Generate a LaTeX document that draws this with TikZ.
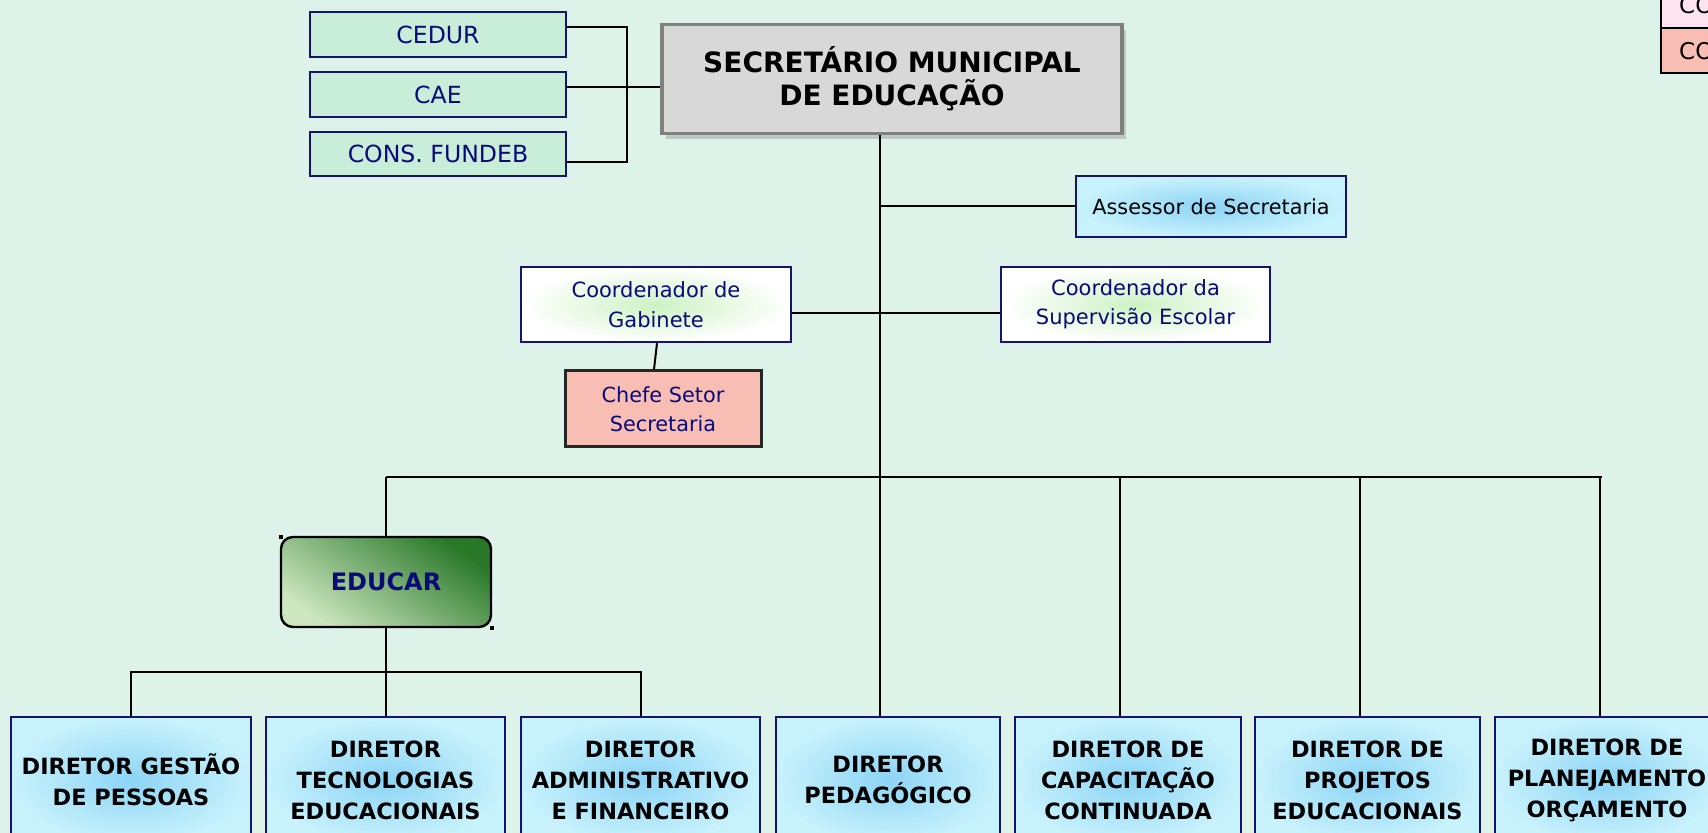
\documentclass[tikz,border=0pt]{standalone}
\usepackage{fontspec}
\setmainfont{DejaVu Sans}
\usetikzlibrary{shadows,calc}
\definecolor{bgc}{RGB}{221,242,232}
\definecolor{navyb}{RGB}{20,20,110}
\definecolor{navyt}{RGB}{10,10,120}
\definecolor{mintbox}{RGB}{200,238,218}
\definecolor{greyfill}{RGB}{216,216,216}
\definecolor{greyline}{RGB}{128,128,128}
\definecolor{blin}{RGB}{140,212,245}
\definecolor{blout}{RGB}{200,242,252}
\definecolor{grin}{RGB}{205,242,195}
\definecolor{salmon}{RGB}{248,190,180}
\definecolor{pinkl}{RGB}{253,228,240}
\definecolor{gdark}{RGB}{40,120,40}
\definecolor{glight}{RGB}{205,230,192}
\begin{document}
\begin{tikzpicture}[x=0.5pt,y=-0.5pt,
  sz/.style 2 args={minimum width=#1*0.5pt, minimum height=#2*0.5pt, inner sep=0pt, align=center},
  conn/.style={draw=black, line width=1pt},
  topbox/.style={draw=navyb, fill=mintbox, line width=1.2pt, text=navyt, font=\fontsize{11.8}{14}\selectfont},
  secbox/.style={draw=greyline, fill=greyfill, line width=1.8pt, font=\bfseries\fontsize{14}{16.5}\selectfont, drop shadow={opacity=0.35, shadow xshift=2pt, shadow yshift=-3pt}},
  bluebox/.style={draw=navyb, line width=1.2pt, inner color=blin, outer color=blout},
  coordbox/.style={draw=navyb, line width=1.2pt, inner color=grin, outer color=white, text=navyt, font=\fontsize{10.5}{14.7}\selectfont},
  chefebox/.style={draw=black!85, fill=salmon, line width=1.5pt, text=navyt, font=\fontsize{10.4}{14.7}\selectfont},
  educarbox/.style={draw=black, line width=1.2pt, rounded corners=6pt, top color=gdark, bottom color=glight, shading angle=-35, text=navyt, font=\bfseries\fontsize{12}{14}\selectfont},
  dirbox/.style={bluebox, font=\bfseries\fontsize{11.2}{15.5}\selectfont},
  legbox/.style={draw=black, line width=1.2pt, text=black, anchor=north west, inner xsep=2pt, inner ysep=0pt, text width=56pt, align=left, font=\fontsize{11.5}{12}\selectfont}
]
\useasboundingbox (0,0) rectangle (1708,833);
\fill[bgc] (0,0) rectangle (1708,833);

% legend (cut by page edge, as in the source)
\node[legbox, fill=pinkl, minimum height=23.5pt] (legA) at (1660,-20) {\hspace{7pt}CO};
\node[legbox, fill=salmon, minimum height=22.5pt] (legB) at (1660,27) {\hspace{7pt}CO};

% top-left councils
\node[topbox, sz={256}{45}] (cedur) at (438,34.5) {CEDUR};
\node[topbox, sz={256}{45}] (cae) at (438,94.5) {CAE};
\node[topbox, sz={256}{44}] (fundeb) at (438,154) {CONS. FUNDEB};

% secretary
\node[secbox, sz={460}{109}] (sec) at (892,79) {SECRETÁRIO MUNICIPAL\\DE EDUCAÇÃO};

% staff
\node[bluebox, sz={270}{61}, font=\fontsize{10.4}{14}\selectfont] (assessor) at (1211,206.5) {Assessor de Secretaria};
\node[coordbox, sz={270}{75}] (coordgab) at (656,304.5) {Coordenador de\\Gabinete};
\node[coordbox, sz={269}{75}] (coordsup) at (1135.5,304.5) {Coordenador da\\Supervisão Escolar};
\node[chefebox, sz={196}{76}] (chefe) at (663,409) {Chefe Setor\\Secretaria};

% EDUCAR
\node[educarbox, sz={210}{90}] (educar) at (386,582) {EDUCAR};
\fill[black] (279,535) rectangle (283,539);
\fill[black] (490,626) rectangle (494,630);

% directors
\node[dirbox, sz={240}{126}] (b1) at (131,780) {DIRETOR GESTÃO\\DE PESSOAS};
\node[dirbox, sz={239}{126}] (b2) at (385.5,780) {DIRETOR\\TECNOLOGIAS\\EDUCACIONAIS};
\node[dirbox, sz={239}{126}] (b3) at (640.5,780) {DIRETOR\\ADMINISTRATIVO\\E FINANCEIRO};
\node[dirbox, sz={224}{126}] (b4) at (888,780) {DIRETOR\\PEDAGÓGICO};
\node[dirbox, sz={226}{126}] (b5) at (1128,780) {DIRETOR DE\\CAPACITAÇÃO\\CONTINUADA};
\node[dirbox, sz={225}{126}] (b6) at (1367.5,780) {DIRETOR DE\\PROJETOS\\EDUCACIONAIS};
\node[dirbox, sz={224}{126}] (b7) at (1607,780) {DIRETOR DE\\PLANEJAMENTO\\ORÇAMENTO};

% helper coordinates
\coordinate (bk1) at (627,27);
\coordinate (bk2) at (627,87);
\coordinate (bk3) at (627,162);
\coordinate (spine) at (880,477);
\coordinate (hc) at (880,313);
\coordinate (busL) at (386,477);
\coordinate (busR) at (1602,477);
\coordinate (d5) at (1120,477);
\coordinate (d6) at (1360,477);
\coordinate (d7) at (1600,477);
\coordinate (sub) at (386,672);

% connectors
\draw[conn] (cedur.east |- bk1) -- (bk1) -- (bk3) -- (fundeb.east |- bk3);
\draw[conn] (cae.east |- bk2) -- (sec.west |- bk2);
\draw[conn] (sec.south -| spine) -- (b4.north -| spine);
\draw[conn] (spine |- assessor.west) -- (assessor.west);
\draw[conn] (coordgab.east |- hc) -- (coordsup.west |- hc);
\draw[conn] ($(coordgab.south)+(1,0)$) -- ($(chefe.north)+(-9,0)$);
\draw[conn] (busL) -- (busR);
\draw[conn] (busL) -- (educar.north);
\draw[conn] (d5) -- (b5.north -| d5);
\draw[conn] (d6) -- (b6.north -| d6);
\draw[conn] (d7) -- (b7.north -| d7);
\draw[conn] (educar.south) -- (sub);
\draw[conn] (b1.north) -- (b1.north |- sub) -- (b3.north |- sub) -- (b3.north);
\draw[conn] (sub) -- (b2.north -| sub);
\end{tikzpicture}
\end{document}
